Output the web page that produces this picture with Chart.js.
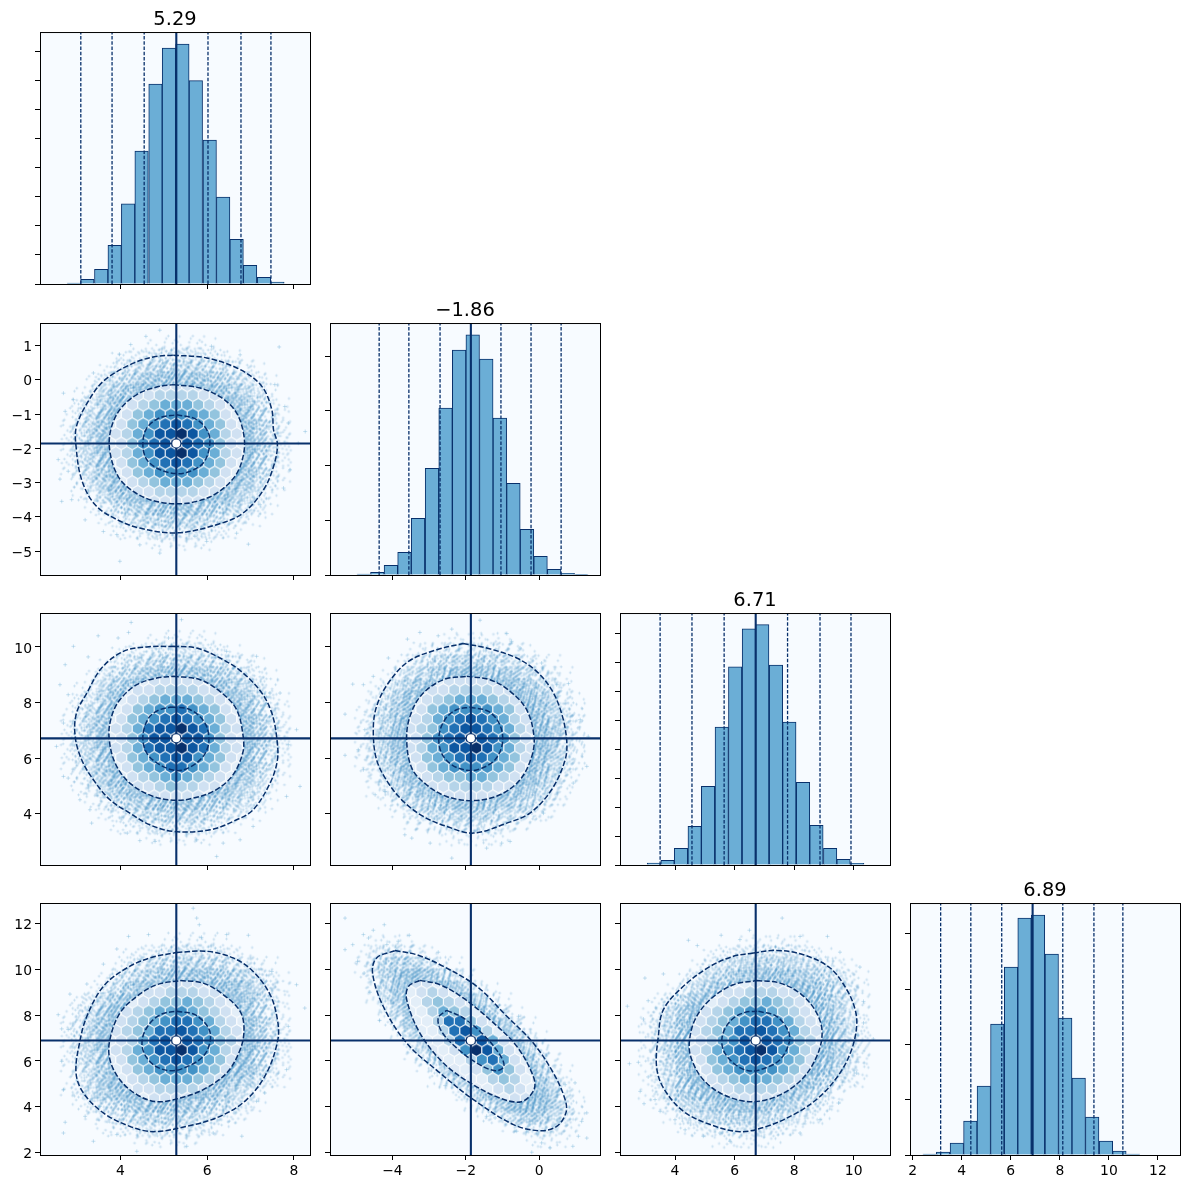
<!DOCTYPE html>
<html>
<head>
<meta charset="utf-8">
<title>Corner plot</title>
<style>
html, body { margin: 0; background: #fff; }
#fig { position: relative; width: 1189px; height: 1189px; overflow: hidden; }
canvas { position: absolute; }
</style>
<script src="https://cdn.jsdelivr.net/npm/chart.js@4/dist/chart.umd.js"></script>
</head>
<body>
<div id="fig"></div>
<script>
// parameter summary
const titles = ['5.29', '\u22121.86', '6.71', '6.89'];
const centers = [5.29, -1.86, 6.71, 6.89];
const ranges = [[2.15, 8.37], [-5.70, 1.66], [2.153, 11.22], [1.89, 12.90]];
const axisSteps = [2, 2, 2, 2];
const pairStepsY = [0, 1, 2, 2];

// histograms, counts in thousands
const binCenters0 = [2.93, 3.24, 3.56, 3.87, 4.18, 4.49, 4.81, 5.12, 5.43, 5.74, 6.06, 6.37, 6.68, 6.99, 7.31, 7.62];
const binCounts0 = [.069, .322, 1.012, 2.668, 5.52, 9.154, 13.777, 16.261, 16.537, 14.007, 9.913, 5.98, 3.082, 1.288, .46, .138];
const quantiles0 = [3.09, 3.81, 4.55, 6.02, 6.78, 7.47];
const binCenters1 = [-4.78, -4.41, -4.04, -3.67, -3.30, -2.92, -2.55, -2.18, -1.81, -1.44, -1.07, -0.70, -0.33, 0.04, 0.41, 0.78, 1.15];
const binCounts1 = [.073, .195, .707, 1.659, 4.146, 7.805, 12.195, 16.439, 17.561, 15.78, 11.463, 6.707, 3.341, 1.366, .415, .122, .049];
const quantiles1 = [-4.36, -3.55, -2.70, -1.04, -0.22, 0.60];
const binCenters2 = [3.29, 3.75, 4.20, 4.66, 5.11, 5.57, 6.02, 6.48, 6.93, 7.39, 7.84, 8.30, 8.75, 9.21, 9.66, 10.12];
const binCounts2 = [.139, .323, 1.155, 2.679, 5.45, 9.537, 13.717, 16.351, 16.628, 13.833, 9.885, 5.727, 2.748, 1.155, .393, .116];
const quantiles2 = [3.50, 4.57, 5.65, 7.78, 8.87, 9.91];
const binCenters3 = [2.69, 3.24, 3.80, 4.35, 4.90, 5.45, 6.01, 6.56, 7.11, 7.67, 8.22, 8.77, 9.32, 9.88, 10.43, 10.98];
const binCounts3 = [.072, .217, .868, 2.458, 4.988, 9.47, 13.59, 17.133, 17.349, 14.53, 9.904, 5.566, 2.747, 1.012, .289, .072];
const quantiles3 = [3.14, 4.37, 5.63, 8.12, 9.39, 10.57];
const histMax = [17.36, 18.416, 17.436, 18.217];
const histSteps = [2, 4, 2, 4];

// contours, named row then column
const outer10 = [[5.22,.72],[5.99,.64],[6.76,.30],[7.26,-.19],[7.49,-.87],[7.53,-1.46],[7.62,-1.89],[7.53,-2.53],[7.30,-3.21],[6.83,-3.89],[6.22,-4.23],[5.30,-4.47],[4.45,-4.33],[3.92,-4.08],[3.42,-3.65],[3.11,-2.92],[2.98,-1.94],[2.99,-1.36],[3.26,-.63],[3.61,-.04],[4.22,.44],[4.76,.67]];
const mid10 = [[5.22,-.14],[5.84,-.24],[6.34,-.53],[6.68,-.97],[6.85,-1.65],[6.83,-2.23],[6.64,-2.82],[6.22,-3.31],[5.76,-3.55],[5.30,-3.62],[4.76,-3.53],[4.30,-3.26],[3.95,-2.82],[3.76,-2.09],[3.78,-1.46],[3.99,-.87],[4.38,-.43],[4.84,-.21]];
const inner10 = [[5.30,-1.02],[5.76,-1.16],[6.03,-1.55],[6.05,-1.99],[5.91,-2.43],[5.61,-2.67],[5.30,-2.74],[4.91,-2.62],[4.61,-2.33],[4.52,-1.89],[4.61,-1.41],[4.91,-1.11]];

const outer20 = [[5.22,10.02],[5.76,9.96],[6.37,9.54],[6.83,9.06],[7.26,8.34],[7.49,7.62],[7.60,6.78],[7.62,5.94],[7.45,5.10],[7.06,4.14],[6.68,3.78],[6.07,3.42],[5.22,3.36],[4.68,3.60],[4.22,4.02],[3.76,4.50],[3.38,5.22],[3.11,5.94],[2.96,6.78],[2.99,7.62],[3.23,8.34],[3.57,9.24],[4.07,9.84],[4.61,10.0]];
const mid20 = [[5.22,8.94],[5.84,8.82],[6.34,8.34],[6.68,7.74],[6.83,6.78],[6.82,6.18],[6.57,5.34],[6.14,4.80],[5.68,4.56],[5.30,4.48],[4.76,4.62],[4.22,5.10],[3.88,5.82],[3.74,6.78],[3.80,7.50],[3.99,8.10],[4.38,8.64],[4.84,8.88]];
const inner20 = [[5.18,7.84],[5.61,7.74],[5.95,7.26],[6.04,6.60],[5.91,6.06],[5.61,5.68],[5.30,5.55],[4.91,5.76],[4.61,6.18],[4.52,6.78],[4.65,7.44],[4.88,7.72]];

const outer30 = [[5.30,10.74],[5.99,10.79],[6.60,10.50],[7.06,9.91],[7.45,8.90],[7.62,7.80],[7.63,6.93],[7.37,5.47],[6.91,4.31],[6.30,3.58],[5.53,3.14],[4.76,2.91],[4.22,3.14],[3.61,3.73],[3.15,4.60],[2.98,5.47],[3.06,6.78],[3.23,7.95],[3.61,9.26],[4.15,10.06],[4.68,10.50]];
const mid30 = [[5.38,9.51],[5.91,9.40],[6.37,8.90],[6.76,8.17],[6.85,7.37],[6.76,6.49],[6.45,5.47],[5.91,4.75],[5.38,4.38],[4.84,4.22],[4.38,4.53],[3.99,5.18],[3.76,6.06],[3.76,6.93],[3.99,8.09],[4.38,8.82],[4.84,9.33]];
const inner30 = [[5.30,8.17],[5.72,8.02],[6.03,7.44],[6.07,6.86],[5.91,6.20],[5.53,5.74],[5.14,5.57],[4.76,5.84],[4.53,6.42],[4.52,7.07],[4.72,7.73],[4.99,8.07]];

const outer21 = [[-2.07,10.12],[-1.43,9.96],[-.61,9.60],[-.07,9.12],[.34,8.46],[.61,7.62],[.75,6.66],[.71,5.94],[.34,4.86],[-.25,4.02],[-.88,3.66],[-1.79,3.30],[-2.52,3.54],[-3.16,3.90],[-3.70,4.44],[-4.11,5.10],[-4.43,5.94],[-4.52,7.02],[-4.43,7.86],[-4.11,8.70],[-3.56,9.48],[-2.79,9.90]];
const mid21 = [[-1.97,8.94],[-1.34,8.82],[-.79,8.40],[-.34,7.74],[-.14,6.78],[-.20,6.06],[-.52,5.22],[-1.07,4.68],[-1.79,4.47],[-2.52,4.62],[-3.07,5.04],[-3.47,5.64],[-3.61,6.66],[-3.52,7.50],[-3.20,8.28],[-2.61,8.82]];
const inner21 = [[-1.88,7.83],[-1.38,7.68],[-1.07,7.20],[-1.00,6.54],[-1.20,5.94],[-1.61,5.61],[-1.97,5.56],[-2.38,5.76],[-2.66,6.18],[-2.73,6.78],[-2.57,7.38],[-2.25,7.74]];

const outer31 = [[-3.93,10.82],[-3.34,10.64],[-2.61,10.13],[-1.70,9.26],[-.88,7.95],[-.16,6.78],[.39,5.47],[.71,4.31],[.73,3.73],[.48,3.14],[.02,2.95],[-.70,3.22],[-1.79,4.31],[-2.70,5.47],[-3.61,6.78],[-4.25,8.39],[-4.54,9.84],[-4.43,10.50]];
const mid31 = [[-3.25,9.52],[-2.70,9.33],[-2.07,8.75],[-1.34,7.80],[-.61,6.64],[-.16,5.33],[-.14,4.74],[-.48,4.22],[-1.07,4.38],[-1.88,5.04],[-2.61,5.91],[-3.25,7.22],[-3.61,8.68],[-3.56,9.26]];
const inner31 = [[-2.52,8.21],[-2.07,7.88],[-1.52,7.15],[-1.07,6.27],[-.96,5.76],[-1.20,5.57],[-1.70,5.91],[-2.25,6.57],[-2.66,7.29],[-2.75,7.88]];

const outer32 = [[6.63,10.72],[7.41,10.83],[8.31,10.64],[9.21,10.06],[9.77,9.11],[10.05,8.24],[10.10,7.51],[9.93,6.49],[9.54,5.47],[8.87,4.45],[8.09,3.73],[7.08,3.14],[6.18,2.91],[5.18,3.22],[4.28,3.80],[3.61,4.82],[3.38,5.76],[3.44,7.07],[3.61,8.24],[4.28,9.26],[5.18,10.13],[5.96,10.57]];
const mid32 = [[6.74,9.51],[7.53,9.40],[8.25,8.90],[8.76,8.09],[8.94,7.22],[8.76,6.20],[8.25,5.18],[7.41,4.45],[6.52,4.22],[5.62,4.53],[4.95,5.18],[4.56,6.06],[4.48,6.78],[4.67,7.80],[5.18,8.68],[5.96,9.33]];
const inner32 = [[6.80,8.17],[7.41,7.95],[7.81,7.29],[7.83,6.78],[7.53,6.06],[6.97,5.66],[6.46,5.57],[5.96,5.91],[5.62,6.49],[5.60,7.15],[5.90,7.80],[6.35,8.12]];

// samples outside the dense cloud
const outliers10 = [[4.91,1.45],[4.59,1.27],[4.24,1.03],[3.98,.75],[6.10,.98],[6.76,.73],[7.66,.96],[7.56,-.14],[7.79,-.78],[2.69,-.39],[2.73,-.92],[2.92,-.58],[2.57,-2.33],[2.80,-2.67],[2.61,-2.90],[2.88,-3.50],[2.65,-3.55],[3.19,-4.09],[3.61,-4.43],[3.99,-5.30],[4.45,-4.82],[4.91,-5.06],[5.99,-4.72],[6.95,-4.80],[7.22,-3.65],[7.76,-3.16],[7.91,-2.63],[8.26,-1.51],[8.10,-1.85],[3.38,.20],[5.72,-4.57],[6.68,-4.48],[3.92,-4.52],[7.87,-1.26]];
const outliers20 = [[4.25,10.88],[4.19,10.52],[3.49,10.40],[2.92,10.02],[2.73,9.36],[2.61,8.64],[2.80,8.28],[2.69,7.26],[2.53,6.42],[2.69,5.34],[2.80,5.28],[3.30,4.14],[3.34,3.66],[4.16,3.30],[4.45,3.03],[4.80,3.00],[5.76,3.06],[6.37,2.94],[6.22,2.46],[7.06,3.54],[7.83,4.62],[8.14,4.98],[7.87,6.48],[8.06,7.02],[7.68,8.34],[7.45,8.34],[7.14,9.66],[6.45,9.84],[5.41,10.98],[5.11,10.32],[3.95,10.32],[3.26,9.64],[6.76,3.06],[3.07,4.50]];
const outliers30 = [[5.68,12.67],[5.76,12.24],[5.82,11.95],[4.65,11.52],[4.19,11.44],[3.92,10.89],[3.61,10.23],[3.23,9.36],[2.84,8.92],[2.57,8.02],[2.65,7.40],[2.80,7.37],[2.65,5.98],[2.69,4.74],[2.73,3.32],[2.69,2.85],[3.19,3.58],[3.38,2.49],[3.92,2.78],[4.38,2.05],[5.53,2.27],[6.14,2.85],[6.80,2.71],[7.14,4.24],[7.83,5.62],[7.87,7.51],[8.25,8.31],[8.06,9.33],[7.49,9.91],[6.95,11.49],[6.45,11.52],[5.87,11.40],[3.53,4.02],[7.33,4.60]];
const outliers21 = [[-1.61,10.96],[-2.38,10.64],[-3.25,10.52],[-3.59,10.28],[-2.75,10.40],[-.88,10.48],[-.75,10.20],[-.52,9.96],[-4.11,9.60],[-4.52,8.94],[-5.08,8.66],[-4.79,8.64],[-5.29,7.58],[-4.75,7.02],[-4.93,6.30],[-5.29,6.10],[-4.79,5.58],[-4.47,4.68],[-4.20,4.80],[-3.66,3.24],[-2.97,2.94],[-2.38,2.40],[-1.43,2.76],[-.79,3.00],[.12,4.02],[.93,5.10],[1.30,5.70],[1.34,6.78],[1.12,7.38],[.80,8.68],[.48,8.64],[.07,9.42],[-3.47,3.12],[-1.02,2.94]];
const outliers31 = [[-5.29,12.24],[-5.29,10.86],[-5.08,11.08],[-4.52,11.71],[-4.22,11.95],[-4.79,11.52],[-4.65,11.37],[-4.15,11.08],[-3.84,11.23],[-3.54,11.49],[-4.95,10.35],[-4.77,9.84],[-4.61,9.00],[-4.35,7.77],[-3.88,10.86],[-2.75,10.75],[-.56,7.95],[-1.35,8.05],[.71,4.96],[.98,5.04],[1.30,3.73],[1.16,3.36],[1.07,2.71],[.92,2.27],[.07,2.42],[-.20,2.01],[.30,2.20],[-.61,2.93],[-1.20,3.51],[-2.56,4.92],[-1.43,3.58],[1.30,2.63]];
const outliers32 = [[7.60,12.24],[6.50,11.71],[5.55,11.49],[4.45,11.27],[4.75,11.04],[3.61,9.80],[2.99,9.62],[2.40,8.39],[2.94,7.83],[3.10,8.63],[2.77,5.94],[2.47,5.88],[3.10,5.30],[2.83,4.67],[2.96,4.13],[3.33,4.31],[3.50,3.80],[4.00,3.43],[4.34,2.99],[4.95,2.71],[5.51,2.85],[5.85,2.49],[8.20,2.85],[8.87,3.43],[9.49,4.16],[10.10,5.47],[10.66,6.96],[10.33,7.66],[10.33,8.60],[10.21,10.10],[9.54,10.75],[9.12,11.44],[8.20,11.44],[6.18,11.30]];

// hex cell shades, one string per hex row from top to bottom, 0 = empty
const hexRows10 = ['1111222221111','11122333322111','1123455543211','11245666654211','1245678765421','12356889865321','1246789876421','12356889865321','1245678765421','11245666654211','1123455543211','11122333322111','1111222221111'];
const hexRows20 = ['1111222221111','11122333322111','1123455543211','11245667654211','1245678765421','12357889875321','1246889886421','12357889875321','1245678865421','11245677654211','1123456543211','11122343322111','1111222221111'];
const hexRows30 = ['1111122221111','11112233322111','1112344543211','11234556543211','1234567765321','12345778765321','1235789876431','12356889865321','1245678765421','11245666654211','1123455543211','11122333322111','1111222221111'];
const hexRows21 = ['1111222221111','11122333322111','1123455543211','11245666654211','1235678765321','12346788765321','1246789876421','12356889865321','1245678765421','11245666654211','1123445543211','11122333322111','1111222221111'];
const hexRows31 = ['1221100000000','11232110000000','1134321000000','01135431100000','0113774210000','00113786311000','0011379852100','00001269852100','0000113675210','00000012464210','0000001134311','00000000123211','0000000001221'];
const hexRows32 = ['1111112221111','11112233322111','1112344543211','11234566543211','1234567765321','12345778765321','1235689876431','12356789865321','1245678765421','11245666654211','1123455543211','11122333322111','1111222221111'];
const hexShades = ['', '#e3eef8', '#d0e1f2', '#b5d4e9', '#93c4de', '#6aaed6', '#4292c6', '#2171b5', '#0d57a1', '#08306b'];
const hexDx = [0.2534, 0.2998, 0.3694];
const hexDy = [0, 0.2823, 0.3478, 0.4223];

// scatter density around the center, one string per row, 0 = no samples
const roundCloud = ['', '',
  '0000000001111100000000', '0000001223333221000000', '0000012355665533210000', '0000135579999775321000',
  '0001257999999997531000', '0002379999999999752100', '0012579999999999953100', '0013599999999999973200',
  '0013599999999999973200', '0013599999999999973200', '0012579999999999953100', '0002379999999999752100',
  '0001257999999997531000', '0000135579999775321000', '0000012355665533210000', '0000001223333221000000',
  '0000000001111100000000', '', ''];
const tiltCloud = ['', '',
  '0000000000111110000000', '0000000122333322100000', '0000001235566553321000', '0000013557999977532100',
  '0000125799999999753100', '0002379999999999752100', '0012579999999999953100', '0013599999999999973200',
  '0013599999999999973200', '0013599999999999973200', '0012579999999999953100', '0002379999999999752100',
  '0012579999999975310000', '0001355799997753210000', '0000123556655332100000', '0000012233332210000000',
  '0000000011111000000000', '', ''];
const longCloud = ['', '',
  '0001110000000000000000', '0013332100000000000000', '0013677531000000000000', '0002689985200000000000',
  '0002579999731000000000', '0000379999993100000000', '0000159999999510000000', '0000027999999951000000',
  '0000003799999993100000', '0000001399999997300000', '0000000139999999520000', '0000000015799999731000',
  '0000000000359999952000', '0000000000025899973100', '0000000000001368863100', '0000000000000013332100',
  '0000000000000000111000', '', ''];

const NAVY = '#08306b';
const panelLefts = [40, 330, 620, 910];
const panelTops = [32, 323, 613, 903];
// spread of the "+" marks inside one density cell, one pair per tile variant
const speckleSteps = [[0.618034, 0.754878], [0.414214, 0.732051], [0.302776, 0.791288], [0.236068, 0.645751]];

Chart.defaults.font.family = "'DejaVu Sans'";
Chart.defaults.font.size = 13.9;
Chart.defaults.color = '#000';
Chart.defaults.animation = false;

function makeCanvas(width, height) {
    const canvas = document.createElement('canvas');
    canvas.width = width;
    canvas.height = height;
    return canvas;
}

function speckleTile(level, variant) {
    const canvas = makeCanvas(28, 28);
    const ctx = canvas.getContext('2d');
    const [stepA, stepB] = speckleSteps[variant];
    ctx.strokeStyle = 'rgba(66,146,198,.21)';
    ctx.lineWidth = 0.9;
    for (let i = 1; i <= level * 10; i++) {
        const x = 2 + ((i * stepA) % 1) * 24;
        const y = 2 + ((i * stepB) % 1) * 24;
        ctx.beginPath();
        ctx.moveTo(x - 1.5, y);
        ctx.lineTo(x + 1.5, y);
        ctx.moveTo(x, y - 1.5);
        ctx.lineTo(x, y + 1.5);
        ctx.stroke();
    }
    return canvas;
}

function hexTile(color) {
    const w = 11, h = 9.6;
    const canvas = makeCanvas(14, 16);
    const ctx = canvas.getContext('2d');
    ctx.translate(7, 8);
    ctx.beginPath();
    ctx.moveTo(0, -2 * h / 3);
    ctx.lineTo(w / 2, -h / 3);
    ctx.lineTo(w / 2, h / 3);
    ctx.lineTo(0, 2 * h / 3);
    ctx.lineTo(-w / 2, h / 3);
    ctx.lineTo(-w / 2, -h / 3);
    ctx.closePath();
    ctx.fillStyle = color;
    ctx.fill();
    ctx.strokeStyle = '#fff';
    ctx.lineWidth = 0.9;
    ctx.stroke();
    return canvas;
}

const hexTiles = hexShades.map(c => c ? hexTile(c) : null);
const speckles = [0, 1, 2, 3].map(variant => [0, 1, 2, 3, 4, 5, 6, 7, 8, 9].map(level => speckleTile(level, variant)));

const panelFrame = {
    id: 'panelFrame',
    beforeDatasetsDraw(chart) {
        const { ctx, chartArea: a } = chart;
        ctx.fillStyle = '#f7fbff';
        ctx.fillRect(a.left, a.top, a.right - a.left, a.bottom - a.top);
    },
    // hex cells only show inside the contour their dataset points at
    beforeDatasetDraw(chart, args) {
        const target = chart.data.datasets[args.index].clipLine;
        if (target === undefined) return;
        const line = chart.getDatasetMeta(target).dataset;
        line.updateControlPoints(chart.chartArea, 'x');
        chart.ctx.save();
        chart.ctx.beginPath();
        line.path(chart.ctx);
        chart.ctx.closePath();
        chart.ctx.clip();
    },
    afterDatasetDraw(chart, args) {
        if (chart.data.datasets[args.index].clipLine !== undefined) chart.ctx.restore();
    },
    afterDraw(chart) {
        const { ctx, chartArea: a } = chart;
        ctx.strokeStyle = '#000';
        ctx.lineWidth = 1;
        ctx.strokeRect(a.left + 0.5, a.top + 0.5, a.right - a.left, a.bottom - a.top);
    }
};

function axis(isX, min, max, step, labelled) {
    return {
        type: 'linear',
        min, max,
        offset: false,
        afterFit: s => { if (isX) s.height = 34; else s.width = 40; },
        border: { display: true, color: '#000', width: 1 },
        grid: { display: true, offset: false, drawOnChartArea: false, drawTicks: true, tickLength: 5, tickColor: '#000', tickWidth: 1 },
        ticks: {
            stepSize: step,
            includeBounds: false,
            autoSkip: false,
            maxRotation: 0,
            padding: 3,
            labelOffset: isX ? 0 : 2,
            color: '#000',
            callback: v => labelled ? String(v).replace('-', '\u2212') : ''
        }
    };
}

function addChart(col, row, config) {
    const canvas = makeCanvas(319, 318);
    canvas.style.left = (panelLefts[col] - 40) + 'px';
    canvas.style.top = (panelTops[row] - 32) + 'px';
    document.getElementById('fig').appendChild(canvas);
    config.plugins = [panelFrame];
    return new Chart(canvas, config);
}

const toXY = pairs => pairs.map(p => ({ x: p[0], y: p[1] }));
const closed = pairs => toXY(pairs.concat([pairs[0]]));

function hexPoints(rows, col, row) {
    const pts = [];
    rows.forEach((text, i) => {
        const k = i - 6;
        const first = k % 2 ? -6.5 : -6;
        [...text].forEach((ch, j) => {
            if (ch !== '0') pts.push({ x: centers[col] + (first + j) * hexDx[col], y: centers[row] - k * hexDy[row], level: +ch });
        });
    });
    return pts;
}

function cloudPoints(rows, col, row) {
    const spanX = ranges[col][1] - ranges[col][0];
    const spanY = ranges[row][1] - ranges[row][0];
    const pts = [];
    rows.forEach((text, r) => {
        [...text].forEach((ch, c) => {
            if (ch !== '0') pts.push({
                x: centers[col] + (c - 10.6) * spanX / 22,
                y: centers[row] - (r - 10) * spanY / 21,
                level: +ch,
                variant: (c * c * 3 + r * r * 5 + c * r + col) % 4
            });
        });
    });
    return pts;
}

function contour(pairs) {
    return { data: closed(pairs), showLine: true, tension: 0.35, pointRadius: 0, borderColor: NAVY, borderWidth: 1.5, borderDash: [5.5, 2.2] };
}

// the first dataset is painted last, so this runs from top layer to bottom
function pairChart(col, row, outer, mid, inner, hexRows, cloudRows, outliers) {
    const [xMin, xMax] = ranges[col];
    const [yMin, yMax] = ranges[row];
    const solid = { showLine: true, pointRadius: 0, borderColor: NAVY, borderWidth: 2.1 };
    addChart(col, row, {
        type: 'scatter',
        data: {
            datasets: [
                { data: [{ x: centers[col], y: centers[row] }], pointStyle: 'circle', pointRadius: 4, pointBackgroundColor: '#fff', pointBorderWidth: 0 },
                { ...solid, data: [{ x: xMin, y: centers[row] }, { x: xMax, y: centers[row] }] },
                { ...solid, data: [{ x: centers[col], y: yMin }, { x: centers[col], y: yMax }] },
                contour(outer),
                contour(mid),
                contour(inner),
                { data: hexPoints(hexRows, col, row), clipLine: 7, pointRadius: 1, pointStyle: c => hexTiles[c.raw.level] },
                { data: closed(mid), showLine: true, tension: 0.35, pointRadius: 0, borderWidth: 0, fill: 'shape', backgroundColor: '#dfeaf6' },
                { data: toXY(outliers), pointStyle: 'cross', pointRadius: 2, pointBorderColor: 'rgba(107,174,214,.36)', pointBorderWidth: 1 },
                { data: cloudPoints(cloudRows, col, row), pointRadius: 1, pointStyle: c => speckles[c.raw.variant][c.raw.level] }
            ]
        },
        options: {
            responsive: false,
            events: [],
            layout: { padding: { top: 32, right: 9 } },
            plugins: { legend: { display: false }, tooltip: { enabled: false } },
            scales: {
                x: axis(true, xMin, xMax, axisSteps[col], row === 3),
                y: axis(false, yMin, yMax, pairStepsY[row], col === 0)
            }
        }
    });
}

function histChart(i, binCenters, binCounts, quantiles) {
    const [xMin, xMax] = ranges[i];
    const yMax = histMax[i];
    const vertical = x => [{ x, y: 0 }, { x, y: yMax }];
    addChart(i, i, {
        type: 'bar',
        data: {
            datasets: [
                { type: 'line', data: vertical(centers[i]), pointRadius: 0, borderColor: NAVY, borderWidth: 2.1 },
                ...quantiles.map(q => ({ type: 'line', data: vertical(q), pointRadius: 0, borderColor: NAVY, borderWidth: 1.3, borderDash: [3.5, 1.7] })),
                {
                    type: 'bar',
                    data: binCenters.map((x, k) => ({ x, y: binCounts[k] })),
                    backgroundColor: '#6baed6',
                    borderColor: NAVY,
                    borderWidth: 1,
                    barPercentage: 1,
                    categoryPercentage: 1
                }
            ]
        },
        options: {
            responsive: false,
            events: [],
            layout: { padding: { right: 9 } },
            plugins: {
                legend: { display: false },
                tooltip: { enabled: false },
                title: {
                    display: true,
                    text: titles[i],
                    fullSize: false,
                    color: '#000',
                    font: { size: 19.44, weight: 'normal' },
                    padding: { top: 8.7, bottom: 0 }
                }
            },
            scales: {
                x: axis(true, xMin, xMax, axisSteps[i], i === 3),
                y: axis(false, 0, yMax, histSteps[i], false)
            }
        }
    });
}

histChart(0, binCenters0, binCounts0, quantiles0);
histChart(1, binCenters1, binCounts1, quantiles1);
histChart(2, binCenters2, binCounts2, quantiles2);
histChart(3, binCenters3, binCounts3, quantiles3);

pairChart(0, 1, outer10, mid10, inner10, hexRows10, roundCloud, outliers10);
pairChart(0, 2, outer20, mid20, inner20, hexRows20, roundCloud, outliers20);
pairChart(0, 3, outer30, mid30, inner30, hexRows30, tiltCloud, outliers30);
pairChart(1, 2, outer21, mid21, inner21, hexRows21, roundCloud, outliers21);
pairChart(1, 3, outer31, mid31, inner31, hexRows31, longCloud, outliers31);
pairChart(2, 3, outer32, mid32, inner32, hexRows32, tiltCloud, outliers32);
</script>
</body>
</html>
